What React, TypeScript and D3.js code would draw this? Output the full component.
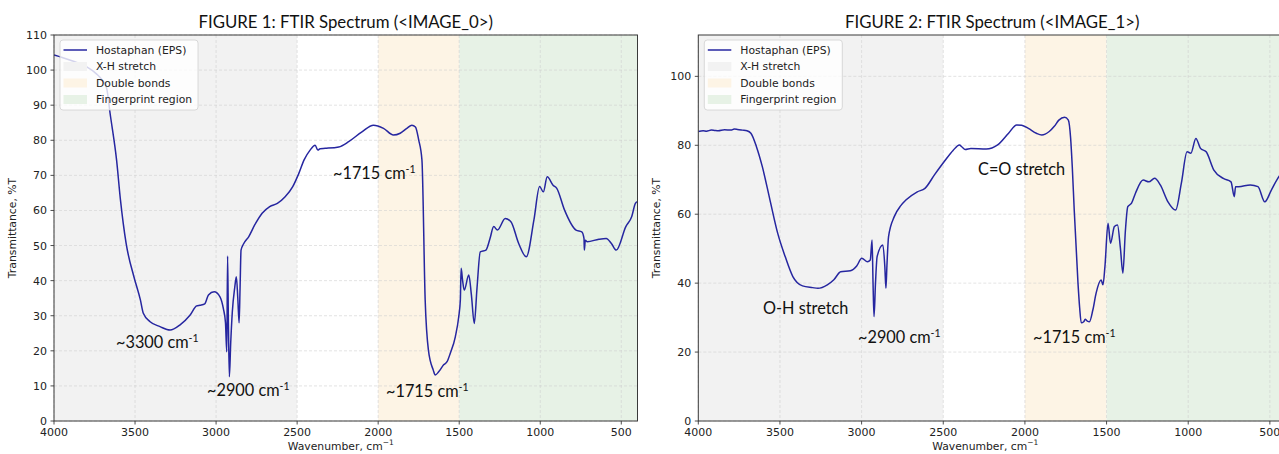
import React from "react";
import * as d3 from "d3";

// ---------- DATA ----------
const xTicks = [4000, 3500, 3000, 2500, 2000, 1500, 1000, 500];
const leftYTicks = [0, 10, 20, 30, 40, 50, 60, 70, 80, 90, 100, 110];
const rightYTicks = [0, 20, 40, 60, 80, 100];

const legendLabels = ["Hostaphan (EPS)", "X-H stretch", "Double bonds", "Fingerprint region"];

// regions [from, to] in cm-1
const regionXH = [4000, 2500];
const regionDouble = [2000, 1500];
const regionFinger = [1500, 400];

const leftWavenumber = [
  4000, 3950, 3880, 3800, 3740, 3700, 3675, 3654, 3614, 3590, 3555, 3507, 3467, 3449, 3407, 3346, 3284, 3222,
  3160, 3120, 3099, 3070, 3047, 3012, 2976, 2955, 2942, 2934, 2929, 2924, 2918, 2910, 2900, 2885, 2875, 2866,
  2858, 2852, 2846, 2830, 2799, 2760, 2716, 2669, 2622, 2574, 2527, 2490, 2457, 2420, 2389, 2372, 2358, 2327,
  2243, 2182, 2100, 2029, 1967, 1906, 1864, 1823, 1792, 1770, 1750, 1730, 1710, 1690, 1660, 1648, 1627, 1596,
  1575, 1555, 1524, 1503, 1493, 1488, 1479, 1469, 1441, 1425, 1407, 1390, 1370, 1335, 1310, 1287, 1264, 1216,
  1181, 1133, 1086, 1039, 1004, 981, 957, 921, 898, 850, 779, 744, 730, 728, 722, 710, 638, 593, 560, 531, 472,
  436, 413, 400,
];
const leftTransmittance = [
  104.3, 103.6, 102.5, 101, 99, 97, 94.8, 87.7, 74.4, 63, 50.6, 41.1, 34.5, 30.7, 28.3, 26.9, 25.9, 27.4,
  30.2, 32.8, 33.0, 33.4, 35.9, 36.8, 35.4, 32, 28, 19.7, 47, 28, 12.6, 22, 31, 38, 41.1, 35,
  28, 38, 48.7, 50.5, 52.5, 56, 59.2, 61.1, 62, 63.9, 66.8, 70.5, 74.4, 77.2, 78.6, 77.2, 77.6, 77.7,
  78.1, 79.6, 82.4, 84.3, 83.4, 81.5, 82, 83.4, 84.3, 83.8, 80.1, 74.4, 34.5, 20.2, 14.5, 13.1, 14, 16,
  16.9, 19.3, 24, 29.7, 34.5, 43.5, 40, 37.3, 41.6, 36, 27.8, 38, 48.2, 48.7, 52, 55.4, 54.4, 57.7,
  56.8, 50.6, 46.8, 57.3, 66.8, 65.3, 69.6, 67.2, 66.3, 60.1, 54.4, 53.9, 52, 48.7, 51.5, 51.1, 51.8, 52, 50.5, 48.7, 55.4,
  58.2, 62, 62.5,
];

const rightWavenumber = [
  4000, 3970, 3950, 3920, 3900, 3878, 3840, 3800, 3780, 3760, 3730, 3702, 3678, 3644, 3608, 3561, 3514, 3468,
  3421, 3362, 3300, 3268, 3210, 3170, 3128, 3069, 3030, 2999, 2964, 2947, 2936, 2930, 2924, 2915, 2905, 2870,
  2858, 2851, 2845, 2835, 2800, 2760, 2729, 2659, 2612, 2554, 2495, 2440, 2401, 2385, 2366, 2331, 2237, 2167,
  2100, 2050, 2020, 1979, 1930, 1897, 1851, 1820, 1792, 1757, 1734, 1720, 1710, 1698, 1675, 1665, 1655, 1640,
  1631, 1618, 1605, 1584, 1564, 1533, 1522, 1510, 1491, 1476, 1452, 1433, 1415, 1400, 1385, 1370, 1347, 1323,
  1276, 1241, 1206, 1171, 1124, 1077, 1042, 1007, 984, 953, 925, 890, 843, 785, 738, 718, 710, 691, 620, 573,
  531, 491, 445, 400,
];
const rightTransmittance = [
  84.0, 84.2, 84.1, 84.4, 84.3, 84.2, 84.5, 84.4, 84.7, 84.6, 84.4, 84.2, 83.5, 79.6, 73.8, 64.1, 54.5, 47.7,
  41.9, 39.2, 38.7, 38.5, 39.5, 41, 43.3, 43.6, 45, 47.2, 46.2, 46.7, 52.5, 40, 30.3, 40, 47.7, 51.1,
  45, 38.5, 45, 53.5, 59.3, 62.5, 64.1, 66.5, 67.5, 71.4, 75.2, 78.5, 80.1, 79.5, 78.8, 79.1, 78.9, 80.1,
  83.5, 85.9, 85.8, 84.9, 83.5, 83, 84, 85.5, 87.3, 88.1, 87.3, 82, 73.8, 61.2, 40, 33, 28.5, 28.8,
  29.5, 29, 28.8, 32.2, 37.1, 40.9, 39.5, 44.8, 57.4, 51.6, 56.4, 56.9, 50, 42.9, 55, 62.2, 63.2, 66.1,
  69.9, 69.4, 70.4, 68.5, 63.6, 61.2, 69, 78.1, 77.7, 82, 79.1, 78.1, 72.8, 70.4, 69.4, 65.1, 68, 68, 68.5, 68,
  63.6, 67, 70.9, 73,
];

// ---------- STYLE ----------
const LINE = "#2626a0";
const GRAY = "#f2f2f2";
const ORANGE = "#fdf4e5";
const GREEN = "#e7f2e6";
const TICK_FONT = "'DejaVu Sans', sans-serif";
const ANNO_FONT = "Lato, 'Open Sans', sans-serif";

type Anno = { text: string; sup?: boolean; x: number; y: number };

type PanelProps = {
  id: string;
  title: string;
  x0: number;
  x1: number;
  top: number;
  bottom: number;
  yMax: number;
  yTicks: number[];
  wn: number[];
  tr: number[];
  annos: Anno[];
  xLabelShift: number;
};

function Panel(p: PanelProps) {
  const x = d3.scaleLinear().domain([4000, 400]).range([p.x0, p.x1]);
  const y = d3.scaleLinear().domain([0, p.yMax]).range([p.bottom, p.top]);
  const pts = p.wn.map((w, i) => [w, p.tr[i]] as [number, number]);
  const line = d3
    .line<[number, number]>()
    .x((d) => x(d[0]))
    .y((d) => y(d[1]))
    .curve(d3.curveMonotoneX);
  const span = (r: number[], fill: string, key: string) => (
    <rect key={key} x={x(r[0])} y={p.top} width={x(r[1]) - x(r[0])} height={p.bottom - p.top} fill={fill} />
  );
  const cx = (p.x0 + p.x1) / 2;
  const lx = p.x0 + 6;
  const ly = p.top + 5;
  const rows = [p.top + 15, p.top + 31.5, p.top + 48, p.top + 64.5];
  return (
    <g>
      <defs>
        <clipPath id={p.id}>
          <rect x={p.x0} y={p.top} width={p.x1 - p.x0} height={p.bottom - p.top} />
        </clipPath>
      </defs>
      <text x={cx} y={28} textAnchor="middle" fontFamily={ANNO_FONT} fontSize={16.8} fill="#111">
        {p.title}
      </text>
      {span(regionXH, GRAY, "g")}
      {span(regionDouble, ORANGE, "o")}
      {span(regionFinger, GREEN, "f")}
      {/* grid */}
      {xTicks.map((t) => (
        <line key={"gx" + t} x1={x(t)} x2={x(t)} y1={p.top} y2={p.bottom} stroke="#cfcfcf" strokeWidth={0.8} strokeDasharray="3,2" opacity={0.7} />
      ))}
      {p.yTicks.map((t) => (
        <line key={"gy" + t} x1={p.x0} x2={p.x1} y1={y(t)} y2={y(t)} stroke="#cfcfcf" strokeWidth={0.8} strokeDasharray="3,2" opacity={0.7} />
      ))}
      <path d={line(pts) || ""} fill="none" stroke={LINE} strokeWidth={1.5} clipPath={`url(#${p.id})`} />
      {/* annotations */}
      {p.annos.map((a, i) => (
        <text key={"a" + i} x={a.x} y={a.y} fontFamily={ANNO_FONT} fontSize={16.3} fill="#111">
          {a.text}
          {a.sup ? (
            <tspan dy={-6.5} fontSize={10.5}>
              -1
            </tspan>
          ) : null}
        </text>
      ))}
      {/* legend */}
      <rect x={lx} y={ly} width={138} height={70} rx={3} fill="#ffffff" fillOpacity={0.8} stroke="#d0d0d0" strokeWidth={0.8} />
      <line x1={lx + 3.5} x2={lx + 27} y1={rows[0]} y2={rows[0]} stroke={LINE} strokeWidth={1.5} />
      <rect x={lx + 3.5} y={rows[1] - 4.5} width={23.5} height={9} fill={GRAY} />
      <rect x={lx + 3.5} y={rows[2] - 4.5} width={23.5} height={9} fill={ORANGE} />
      <rect x={lx + 3.5} y={rows[3] - 4.5} width={23.5} height={9} fill={GREEN} />
      {legendLabels.map((l, i) => (
        <text key={"l" + i} x={lx + 36} y={rows[i] + 3.8} fontFamily={TICK_FONT} fontSize={10.8} fill="#222">
          {l}
        </text>
      ))}
      {/* spines */}
      <rect x={p.x0} y={p.top} width={p.x1 - p.x0} height={p.bottom - p.top} fill="none" stroke="#3a3a3a" strokeWidth={1} />
      {/* x ticks */}
      {xTicks.map((t) => (
        <g key={"xt" + t}>
          <line x1={x(t)} x2={x(t)} y1={p.bottom} y2={p.bottom + 3.5} stroke="#3a3a3a" strokeWidth={0.9} />
          <text x={x(t)} y={p.bottom + 15} textAnchor="middle" fontFamily={TICK_FONT} fontSize={11} fill="#222">
            {t}
          </text>
        </g>
      ))}
      {/* y ticks */}
      {p.yTicks.map((t) => (
        <g key={"yt" + t}>
          <line x1={p.x0 - 3.5} x2={p.x0} y1={y(t)} y2={y(t)} stroke="#3a3a3a" strokeWidth={0.9} />
          <text x={p.x0 - 7} y={y(t) + 4} textAnchor="end" fontFamily={TICK_FONT} fontSize={11} fill="#222">
            {t}
          </text>
        </g>
      ))}
      <text x={cx + p.xLabelShift} y={450} textAnchor="middle" fontFamily={TICK_FONT} fontSize={10.8} fill="#222">
        Wavenumber, cm
        <tspan dy={-5} fontSize={7.5}>
          −1
        </tspan>
      </text>
      <text
        transform={`translate(${p.x0 - 38},${(p.top + p.bottom) / 2}) rotate(-90)`}
        textAnchor="middle"
        fontFamily={TICK_FONT}
        fontSize={10.8}
        fill="#222"
      >
        Transmittance, %T
      </text>
    </g>
  );
}

export default function App() {
  return (
    <svg
      width={1279}
      height={454}
      style={{ position: "absolute", left: 0, top: 0, background: "#fff" }}
      xmlns="http://www.w3.org/2000/svg"
    >
      <rect x={0} y={0} width={1279} height={454} fill="#fff" />
      <Panel
        id="clipL"
        title="FIGURE 1: FTIR Spectrum (<IMAGE_0>)"
        x0={54}
        x1={637.5}
        top={35}
        bottom={421}
        yMax={110}
        yTicks={leftYTicks}
        wn={leftWavenumber}
        tr={leftTransmittance}
        xLabelShift={-5}
        annos={[
          { text: "~3300 cm", sup: true, x: 116, y: 348 },
          { text: "~2900 cm", sup: true, x: 207, y: 396 },
          { text: "~1715 cm", sup: true, x: 333, y: 179 },
          { text: "~1715 cm", sup: true, x: 386, y: 397 },
        ]}
      />
      <Panel
        id="clipR"
        title="FIGURE 2: FTIR Spectrum (<IMAGE_1>)"
        x0={698.3}
        x1={1286.2}
        top={35}
        bottom={421}
        yMax={112}
        yTicks={rightYTicks}
        wn={rightWavenumber}
        tr={rightTransmittance}
        xLabelShift={-7}
        annos={[
          { text: "O-H stretch", x: 763, y: 314 },
          { text: "~2900 cm", sup: true, x: 858, y: 343 },
          { text: "C=O stretch", x: 978, y: 175 },
          { text: "~1715 cm", sup: true, x: 1033, y: 343 },
        ]}
      />
    </svg>
  );
}
